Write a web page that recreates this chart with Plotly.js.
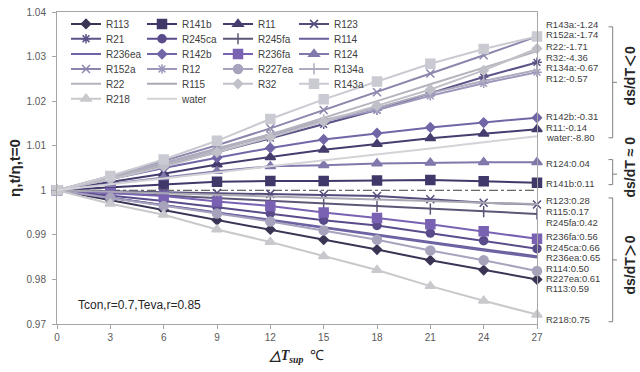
<!DOCTYPE html>
<html>
<head>
<meta charset="utf-8">
<script src="https://cdn.plot.ly/plotly-3.0.1.min.js"></script>
<style>html,body{margin:0;padding:0;background:#fff;}#chart{width:640px;height:372px;}</style>
</head>
<body>
<div id="chart"></div>
<script>
// ---- data ----
const superheat = [0, 3, 6, 9, 12, 15, 18, 21, 24, 27];
const fluids = ["R113","R141b","R11","R123","R21","R245ca","R245fa","R114","R236ea","R142b","R236fa","R124","R152a","R12","R227ea","R134a","R22","R115","R32","R143a","R218","water"];
const R113   = [1, 0.9978, 0.9956, 0.9933, 0.9912, 0.9889, 0.9867, 0.9843, 0.9821, 0.9800];
const R141b  = [1, 1.0007, 1.0013, 1.0019, 1.0021, 1.0021, 1.0022, 1.0023, 1.0020, 1.0017];
const R11    = [1, 1.0018, 1.0037, 1.0058, 1.0074, 1.0091, 1.0104, 1.0117, 1.0127, 1.0137];
const R123   = [1, 0.9998, 0.9996, 0.9994, 0.9992, 0.9990, 0.9987, 0.9980, 0.9972, 0.9968];
const R21    = [1, 1.0027, 1.0055, 1.0085, 1.0117, 1.0148, 1.0180, 1.0218, 1.0254, 1.0287];
const R245ca = [1, 0.9988, 0.9976, 0.9962, 0.9948, 0.9933, 0.9921, 0.9904, 0.9887, 0.9869];
const R245fa = [1, 0.9994, 0.9988, 0.9982, 0.9976, 0.9970, 0.9964, 0.9958, 0.9952, 0.9947];
const R114   = [1, 0.9983, 0.9967, 0.9950, 0.9934, 0.9917, 0.9901, 0.9884, 0.9868, 0.9852];
const R236ea = [1, 0.9983, 0.9966, 0.9949, 0.9932, 0.9916, 0.9899, 0.9882, 0.9865, 0.9849];
const R142b  = [1, 1.0025, 1.0050, 1.0073, 1.0095, 1.0114, 1.0128, 1.0141, 1.0152, 1.0163];
const R236fa = [1, 0.9994, 0.9987, 0.9975, 0.9965, 0.9950, 0.9938, 0.9924, 0.9908, 0.9891];
const R124   = [1, 1.0014, 1.0029, 1.0043, 1.0054, 1.0056, 1.0060, 1.0062, 1.0063, 1.0063];
const R152a  = [1, 1.0032, 1.0066, 1.0101, 1.0139, 1.0180, 1.0220, 1.0262, 1.0303, 1.0345];
const R12    = [1, 1.0029, 1.0060, 1.0092, 1.0124, 1.0155, 1.0180, 1.0212, 1.0240, 1.0265];
const R227ea = [1, 0.9983, 0.9965, 0.9948, 0.9930, 0.9910, 0.9889, 0.9865, 0.9843, 0.9819];
const R134a  = [1, 1.0030, 1.0062, 1.0094, 1.0127, 1.0158, 1.0185, 1.0218, 1.0245, 1.0270];
const R22    = [1, 1.0027, 1.0057, 1.0090, 1.0125, 1.0162, 1.0200, 1.0238, 1.0275, 1.0312];
const R115   = [1, 0.9997, 0.9993, 0.9990, 0.9986, 0.9983, 0.9979, 0.9976, 0.9972, 0.9969];
const R32    = [1, 1.0024, 1.0053, 1.0085, 1.0119, 1.0154, 1.0190, 1.0226, 1.0269, 1.0318];
const R143a  = [1, 1.0032, 1.0069, 1.0111, 1.0160, 1.0204, 1.0244, 1.0284, 1.0317, 1.0345];
const R218   = [1, 0.9970, 0.9945, 0.9912, 0.9884, 0.9852, 0.9821, 0.9785, 0.9752, 0.9721];
const water  = [1, 1.0013, 1.0027, 1.0040, 1.0054, 1.0067, 1.0081, 1.0094, 1.0108, 1.0121];
const seriesValues = [R113,R141b,R11,R123,R21,R245ca,R245fa,R114,R236ea,R142b,R236fa,R124,R152a,R12,R227ea,R134a,R22,R115,R32,R143a,R218,water];
const endLabels = ["R143a:-1.24","R152a:-1.74","R22:-1.71","R32:-4.36","R134a:-0.67","R12:-0.57","R142b:-0.31","R11:-0.14","water:-8.80","R124:0.04","R141b:0.11","R123:0.28","R115:0.17","R245fa:0.42","R236fa:0.56","R245ca:0.66","R236ea:0.65","R114:0.50","R227ea:0.61","R113:0.59","R218:0.75"];
const groupLabels = ["ds/dT＜0","ds/dT ≈ 0","ds/dT＞0"];
const xTicks = [0,3,6,9,12,15,18,21,24,27];
const noteText = "Tcon,r=0.7,Teva,r=0.85";

// ---- styles ----
const colors = ['#3b3454','#41386a','#463c6e','#564c7c','#5b5287','#5a4b8a','#5d5676','#6a5f9a','#6f63a6','#7266a6','#7a62b3','#8178ab','#8c86ad','#9d99bd','#a7a3bd','#aeacbe','#b4b4be','#a9a9b3','#c0c0c8','#cacad2','#c9c9cd','#d3d3d8'];
const symbols = ['diamond','square','triangle-up','x-thin-open','asterisk-open','circle','line-ns-open',null,null,'diamond','square','triangle-up','x-thin-open','asterisk-open','circle','line-ns-open',null,null,'diamond','square','triangle-up',null];
const sizes = [7,9,9,8,8,8,8,0,0,7,9,9,8,8,9,8,0,0,7,9,9,0];

const L = 57, T = 9, W = 480, H = 315;
const px2py = p => (T + H - p) / H; // pixel row -> paper y
const px2px = p => (p - L) / W;     // pixel col -> paper x

const traces = fluids.map((name, i) => {
  const t = {
    type: 'scatter', x: superheat, y: seriesValues[i], name: name,
    line: {color: colors[i], width: 2},
    cliponaxis: false,
    legend: i < 4 ? 'legend' : 'legend' + (Math.floor(i / 4) + 1)
  };
  if (symbols[i]) {
    t.mode = 'lines+markers';
    t.marker = {symbol: symbols[i], size: sizes[i], color: colors[i], line: {color: colors[i], width: 1.5}};
  } else {
    t.mode = 'lines';
  }
  return t;
});

const rowY = [21, 36, 51.5, 66.5, 81.5, 96.5];
const layout = {
  width: 640, height: 372,
  margin: {l: L, r: 640 - L - W, t: T, b: 372 - T - H, pad: 0},
  paper_bgcolor: '#ffffff', plot_bgcolor: '#ffffff',
  font: {family: 'Liberation Sans, Arial, sans-serif', size: 10, color: '#595959'},
  showlegend: true,
  xaxis: {
    range: [0, 27], tickvals: xTicks, ticktext: xTicks.map(String),
    showgrid: false, zeroline: false, showline: true, mirror: true,
    linecolor: '#a6a6a6', linewidth: 1, ticks: 'outside', ticklen: 4, tickcolor: '#a6a6a6',
    tickfont: {size: 10, color: '#595959'},
    title: {text: '<b><i>△T</i></b><sub><b><i>sup</i></b></sub>  ℃', font: {size: 14, color: '#262626', family: 'Liberation Serif, Times New Roman, serif'}, standoff: 8}
  },
  yaxis: {
    range: [0.97, 1.04], dtick: 0.01, tick0: 0.97,
    showgrid: false, zeroline: false, showline: true, mirror: true,
    linecolor: '#a6a6a6', linewidth: 1, ticks: 'outside', ticklen: 4, tickcolor: '#a6a6a6',
    ticklabelstandoff: 4,
    tickfont: {size: 10, color: '#595959'},
    title: {text: '<b>η,t/η,t=0</b>', font: {size: 15, color: '#262626'}, standoff: 2}
  },
  shapes: [
    {type: 'line', xref: 'paper', x0: 0, x1: 1, yref: 'y', y0: 1, y1: 1, line: {color: '#404040', width: 1, dash: 'dashdot'}, layer: 'below'}
  ],
  annotations: [
    {xref: 'paper', yref: 'paper', x: px2px(76), y: px2py(305), xanchor: 'left', yanchor: 'middle', text: noteText, showarrow: false, font: {size: 12, color: '#262626'}}
  ]
};

// legends: one horizontal row each
for (let r = 0; r < 6; r++) {
  const key = r === 0 ? 'legend' : 'legend' + (r + 1);
  layout[key] = {
    orientation: 'h', x: px2px(66), xanchor: 'left', y: px2py(rowY[r]), yanchor: 'middle',
    bgcolor: 'rgba(0,0,0,0)', borderwidth: 0, entrywidth: 31, entrywidthmode: 'pixels',
    itemwidth: 30, traceorder: 'normal', font: {size: 10, color: '#404040'}, tracegroupgap: 0
  };
}

// right-hand labels
const labelRows = [21.5, 32, 43.5, 55, 65.5, 76, 114, 125.5, 136, 162.3, 181.7, 199, 210.5, 221.5, 236, 246.5, 257, 267.5, 278, 288.5, 319.3];
endLabels.forEach((txt, i) => {
  layout.annotations.push({xref: 'paper', yref: 'paper', x: px2px(545), y: px2py(labelRows[i]), xanchor: 'left', yanchor: 'middle', text: txt, showarrow: false, borderpad: 0, font: {size: 9.5, color: '#404040'}});
});

// brackets
const brackets = [[24, 80, 136], [158, 172.7, 183.3], [196.7, 259.3, 321.7]];
const bx = px2px(612.7), bxl = px2px(608.5), bxr = px2px(617);
brackets.forEach(b => {
  const ln = {color: '#7f7f7f', width: 1};
  layout.shapes.push({type: 'line', xref: 'paper', yref: 'paper', x0: bx, x1: bx, y0: px2py(b[0]), y1: px2py(b[2]), line: ln});
  layout.shapes.push({type: 'line', xref: 'paper', yref: 'paper', x0: bxl, x1: bx, y0: px2py(b[0]), y1: px2py(b[0]), line: ln});
  layout.shapes.push({type: 'line', xref: 'paper', yref: 'paper', x0: bxl, x1: bx, y0: px2py(b[2]), y1: px2py(b[2]), line: ln});
  layout.shapes.push({type: 'line', xref: 'paper', yref: 'paper', x0: bx, x1: bxr, y0: px2py(b[1]), y1: px2py(b[1]), line: ln});
});
const groupRows = [74, 166, 265];
groupLabels.forEach((txt, i) => {
  layout.annotations.push({xref: 'paper', yref: 'paper', x: px2px(630), y: px2py(groupRows[i]), xanchor: 'center', yanchor: 'middle', text: '<b>' + txt + '</b>', textangle: -90, showarrow: false, font: {size: 14, color: '#262626', family: 'Liberation Sans, Noto Sans CJK SC, sans-serif'}});
});

Plotly.newPlot('chart', traces, layout, {staticPlot: true, displayModeBar: false});
</script>
</body>
</html>
